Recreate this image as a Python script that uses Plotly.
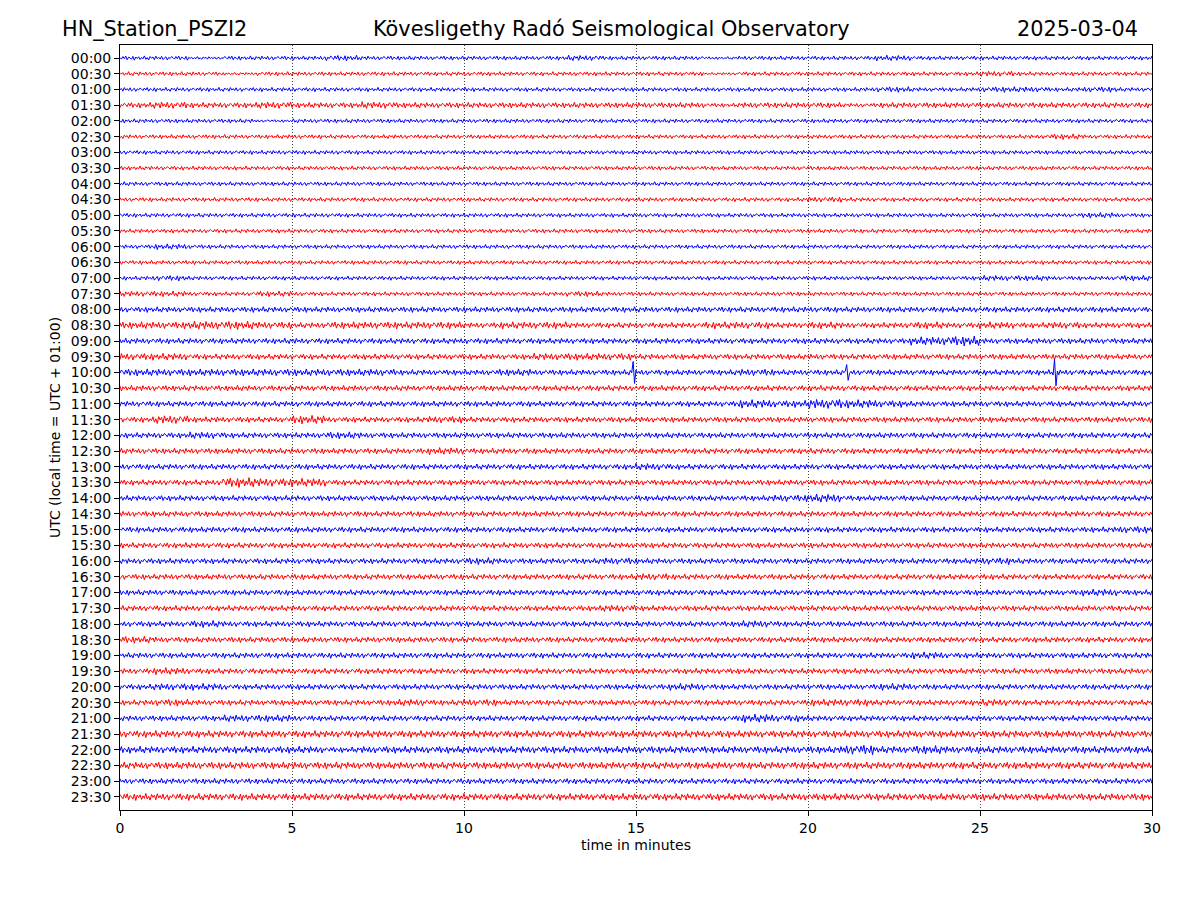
import plotly.graph_objects as go

STATION = "HN_Station_PSZI2"
OBSERVATORY = "Kövesligethy Radó Seismological Observatory"
DAY = "2025-03-04"

# one row per half hour, UTC start of each 30 minute line
ROW_LABELS = [f"{h:02d}:{m:02d}" for h in range(24) for m in (0, 30)]

# peak wiggle size per minute of each row (one digit per minute)
AMPLITUDES = [
    "332333433333343332333343333333",  # 00:00
    "333233333333333332333333343333",  # 00:30
    "333333333333333333333343344343",  # 01:00
    "454454454444444443444344444444",  # 01:30
    "333323333333333333333333333333",  # 02:00
    "333333333333333333333333333433",  # 02:30
    "333333333333333333333333333333",  # 03:00
    "333333333333333333333333333333",  # 03:30
    "333333333333333333333333333333",  # 04:00
    "333333333333333333334333333333",  # 04:30
    "333333333333333333333333333343",  # 05:00
    "333333333333333333333333333333",  # 05:30
    "343333333333333333333333333333",  # 06:00
    "333333333333333333333333333333",  # 06:30
    "343333333333333333333333344334",  # 07:00
    "443343333333343333333333333333",  # 07:30
    "444444444444444444444444444444",  # 08:00
    "556654555545544445545445454544",  # 08:30
    "444444444444444444444446744444",  # 09:00
    "554444444444555444444444444444",  # 09:30
    "555555554445444444544444444444",  # 10:00
    "444444444444444444444444444444",  # 10:30
    "444444444444444444657654444444",  # 11:00
    "464446444544444444444444444444",  # 11:30
    "445444544444444444444444444444",  # 12:00
    "444444444544444444444444444444",  # 12:30
    "444444444444444544444444444444",  # 13:00
    "444766444444444444444444444444",  # 13:30
    "444444444444444444456444444444",  # 14:00
    "444444444444444444444444444444",  # 14:30
    "444444444444444444444444444445",  # 15:00
    "444444444444444444444444444444",  # 15:30
    "444444444454445444444444454444",  # 16:00
    "444444444444444544444444444444",  # 16:30
    "444444444444444444444444444454",  # 17:00
    "444444444444445444444444444444",  # 17:30
    "445444444444444444544444444444",  # 18:00
    "544444444444444444444444444444",  # 18:30
    "444444444444444444444445444444",  # 19:00
    "454444444444444444444444444444",  # 19:30
    "455444444444444454444454444444",  # 20:00
    "454444445454444444445544454444",  # 20:30
    "444554444444444444654444444444",  # 21:00
    "555555555555555555555555555555",  # 21:30
    "555555455555555555555756555555",  # 22:00
    "555555555555555555555555555555",  # 22:30
    "444444444444444444444444444444",  # 23:00
    "555555555555555555555555555555",  # 23:30
]

# short spikes: (row, minute, size in row heights)
SPIKE_ROWS = [20, 20, 20]
SPIKE_MINUTES = [14.9, 21.13, 27.15]
SPIKE_SIZES = [0.7, 0.5, 0.85]

# shape of the noise wiggle, scaled by the amplitude of each minute
WIGGLE = [0.2, -0.5, 0.7, -0.3, 0.9, -0.8, 0.4, 0.1, -0.6, 0.8, -1.0, 0.5,
          -0.2, 0.6, -0.7, 0.3, -0.4, 1.0, -0.6, 0.2, -0.9, 0.7, -0.1, 0.5,
          -0.8, 0.9, -0.3, 0.4, -0.5, 0.8, -0.7, 0.1, 0.6, -0.9, 0.3, -0.2, 0.7]

UNIT = 0.045          # row heights per amplitude digit
PER_MINUTE = 24       # samples drawn per minute
COLORS = ["#0000ff", "#ff0000"]
FONT = "DejaVu Sans"


def build_row(i):
    """Return x (minutes) and y (offset) values for row i."""
    amps = AMPLITUDES[i]
    n = len(amps) * PER_MINUTE
    xs = [k / PER_MINUTE for k in range(n + 1)]
    ys = []
    for k in range(n + 1):
        a = int(amps[min(k // PER_MINUTE, len(amps) - 1)]) * UNIT
        ys.append(-i + a * WIGGLE[(k + 11 * i) % len(WIGGLE)])
    for r, t, s in zip(SPIKE_ROWS, SPIKE_MINUTES, SPIKE_SIZES):
        if r == i:
            k = round(t * PER_MINUTE)
            ys[k] = -i + s
            ys[k + 1] = -i - s
    return xs, ys


fig = go.Figure()
for i in range(len(ROW_LABELS)):
    xs, ys = build_row(i)
    fig.add_trace(go.Scatter(
        x=xs, y=ys, mode="lines",
        line=dict(color=COLORS[i % 2], width=1),
        hoverinfo="skip", showlegend=False,
    ))

n_rows = len(ROW_LABELS)
# the page body adds 8px, so the margins are shifted to keep the plot box in place
fig.update_layout(
    width=1200, height=900, autosize=False,
    margin=dict(l=112, r=56, t=37, b=98),
    paper_bgcolor="white", plot_bgcolor="white",
    font=dict(family=FONT, size=14, color="black"),
    showlegend=False,
)
fig.update_xaxes(
    range=[0, 30], tickvals=[0, 5, 10, 15, 20, 25, 30],
    ticks="outside", ticklen=5, tickcolor="black",
    showline=True, linecolor="black", linewidth=1, mirror=True,
    showgrid=True, gridcolor="#444444", gridwidth=0.6, griddash="1px,2px",
    zeroline=False,
    title=dict(text="time in minutes", standoff=5, font=dict(size=14)),
)
fig.update_yaxes(
    range=[-(n_rows - 1) - 0.83, 0.83],
    tickvals=[-i for i in range(n_rows)], ticktext=ROW_LABELS,
    ticks="outside", ticklen=5, tickcolor="black",
    showline=True, linecolor="black", linewidth=1, mirror=True,
    showgrid=False, zeroline=False,
    title=dict(text="UTC (local time = UTC + 01:00)", standoff=6,
               font=dict(size=14)),
)

for text, x, anchor in [(STATION, -0.0581, "left"),
                        (OBSERVATORY, 0.4767, "center"),
                        (DAY, 0.9884, "right")]:
    fig.add_annotation(
        text=text, x=x, y=1.021, xref="paper", yref="paper",
        xanchor=anchor, yanchor="middle", showarrow=False,
        font=dict(family=FONT, size=20.8, color="black"),
    )

fig.write_html("out.html")
